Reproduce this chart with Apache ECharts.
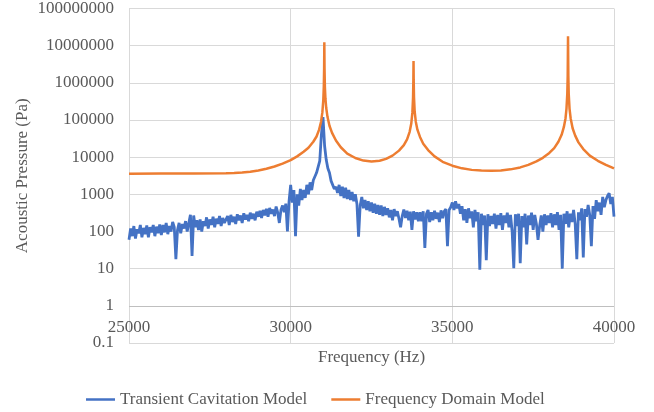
<!DOCTYPE html>
<html>
<head>
<meta charset="utf-8">
<script src="https://cdn.jsdelivr.net/npm/echarts@6/dist/echarts.min.js"></script>
<style>
html,body{margin:0;padding:0;background:#fff;}
#chart{width:654px;height:412px;}
</style>
</head>
<body>
<div id="chart"></div>
<script>
// ---- data ----
const xTicks = [25000, 30000, 35000, 40000];
const yTickLabels = ['0.1','1','10','100','1000','10000','100000','1000000','10000000','100000000'];

// Frequency Domain Model: [Hz, Pa]
const freqDomainHz = [25000, 26000, 27000, 28000, 28250, 28500, 28750, 29000, 29250, 29500, 29750, 30000, 30200, 30400, 30550, 30700, 30800, 30880, 30940, 30980, 31010, 31025, 31035, 31041, 31047, 31058, 31075, 31100, 31140, 31200, 31280, 31400, 31550, 31750, 32000, 32250, 32500, 32750, 32950, 33150, 33350, 33500, 33600, 33680, 33730, 33765, 33785, 33795, 33800, 33805, 33815, 33835, 33870, 33920, 34000, 34100, 34250, 34450, 34700, 35000, 35300, 35600, 35900, 36200, 36500, 36800, 37100, 37350, 37600, 37800, 38000, 38150, 38280, 38380, 38450, 38500, 38530, 38555, 38568, 38578, 38588, 38600, 38625, 38660, 38720, 38800, 38900, 39050, 39250, 39500, 39750, 40000];
const freqDomainPa = [3600, 3620, 3650, 3700, 3750, 3850, 4050, 4400, 4900, 5600, 6700, 8300, 10500, 14000, 18000, 26000, 36000, 55000, 90000, 160000, 350000, 800000, 2500000, 12400000, 2500000, 800000, 380000, 210000, 120000, 70000, 45000, 28000, 18500, 12500, 9500, 8100, 7700, 8000, 9000, 11000, 15000, 21000, 30000, 48000, 80000, 160000, 400000, 1200000, 3850000, 1200000, 400000, 170000, 90000, 55000, 35000, 23000, 15500, 10500, 7500, 5900, 5000, 4550, 4350, 4300, 4400, 4700, 5300, 6200, 7700, 9600, 13000, 17500, 26000, 40000, 65000, 110000, 200000, 500000, 1500000, 17800000, 1500000, 500000, 200000, 110000, 60000, 38000, 25000, 16500, 11000, 8000, 6200, 5000];

// Transient Cavitation Model: sampled every 50 Hz from 25000 Hz
const transientStartHz = 25000;
const transientStepHz = 50;
const transientPa = [
  60,120,75,140,65,115,90,150,70,125,85,145,70,130,95,150,75,135,90,155,
  80,150,95,170,85,140,100,180,130,18,110,170,90,160,120,190,100,170,280,22,
  270,130,200,110,210,100,190,140,240,120,210,150,250,130,220,160,260,140,230,170,
  160,260,150,280,180,250,160,290,200,270,170,310,210,280,190,320,220,300,200,340,
  250,360,230,380,270,410,250,430,300,390,260,470,320,170,380,500,330,560,100,650,
  1800,600,1300,75,1000,500,1400,700,1300,800,1800,1000,2100,1300,2400,2600,3800,4200,8000,40000,
  120000,20000,8500,5000,3800,2300,2200,1400,1600,1100,1800,900,1600,800,1500,750,1300,700,1150,650,
  1000,550,73,500,850,420,700,380,650,350,600,320,560,300,520,280,500,260,460,280,
  420,240,380,200,400,260,350,220,130,260,390,230,360,200,340,110,350,210,330,190,
  330,190,350,36,300,380,180,330,200,360,220,320,180,370,230,350,400,40,380,450,
  600,380,650,420,550,300,480,200,400,170,420,230,350,130,380,190,330,9.4,300,150,
  270,17,290,140,260,160,300,120,280,150,310,110,270,170,320,130,280,100,10.3,290,
  140,300,14,260,130,300,45,270,150,320,110,280,160,60,140,270,100,290,150,270,
  170,310,130,290,150,330,110,280,10,300,160,350,130,300,180,380,160,18,330,200,
  420,20,400,250,520,280,40,480,220,700,350,600,280,850,450,700,900,1070,550,850,
  250
];

// ---- build ----
const orangeData = freqDomainHz.map((f, i) => [f, freqDomainPa[i]]);
const blueData = transientPa.map((v, i) => [transientStartHz + i * transientStepHz, v]);

const txt = '#595959';
const font = 'Liberation Serif';
const chart = echarts.init(document.getElementById('chart'), null, {renderer: 'canvas'});
chart.setOption({
  animation: false,
  backgroundColor: '#fff',
  textStyle: {fontFamily: font, color: txt},
  grid: {left: 129, right: 40, top: 8, bottom: 69, containLabel: false},
  xAxis: {
    type: 'value', min: 25000, max: 40000, interval: 5000,
    name: 'Frequency (Hz)', nameLocation: 'middle', nameGap: 6, nameMoveOverlap: false,
    nameTextStyle: {fontFamily: font, fontSize: 17, color: txt, verticalAlign: 'top'},
    axisLine: {show: false}, axisTick: {show: false},
    axisLabel: {inside: true, margin: 7, fontFamily: font, fontSize: 17, color: txt,
      formatter: v => String(v)},
    splitLine: {show: true, lineStyle: {color: '#d9d9d9', width: 1}}
  },
  yAxis: {
    type: 'log', logBase: 10, min: 0.1, max: 100000000, splitNumber: 9,
    name: 'Acoustic Pressure (Pa)', nameLocation: 'middle', nameGap: 98, nameMoveOverlap: false,
    nameTextStyle: {fontFamily: font, fontSize: 17, color: txt},
    axisLine: {show: false}, axisTick: {show: false},
    axisLabel: {margin: 15, fontFamily: font, fontSize: 17, color: txt,
      formatter: v => v < 1 ? String(+v.toPrecision(3)) : String(Math.round(v))},
    splitLine: {show: true, lineStyle: {color: '#d9d9d9', width: 1}}
  },
  legend: {
    left: 81, top: 386, icon: 'rect', itemWidth: 29, itemHeight: 2.5, itemGap: 24,
    textStyle: {fontFamily: font, fontSize: 17, color: txt},
    data: ['Transient Cavitation Model', 'Frequency Domain Model']
  },
  series: [
    {
      name: 'Transient Cavitation Model', type: 'line', data: blueData,
      symbol: 'none', color: '#4472C4', lineStyle: {width: 2.8, color: '#4472C4'}, z: 3,
      markLine: {silent: true, symbol: 'none', label: {show: false},
        lineStyle: {color: '#bfbfbf', width: 1, type: 'solid'},
        data: [{yAxis: 1}]}
    },
    {
      name: 'Frequency Domain Model', type: 'line', data: orangeData,
      symbol: 'none', color: '#ED7D31', lineStyle: {width: 2.5, color: '#ED7D31'}, z: 4
    }
  ]
});
</script>
</body>
</html>
